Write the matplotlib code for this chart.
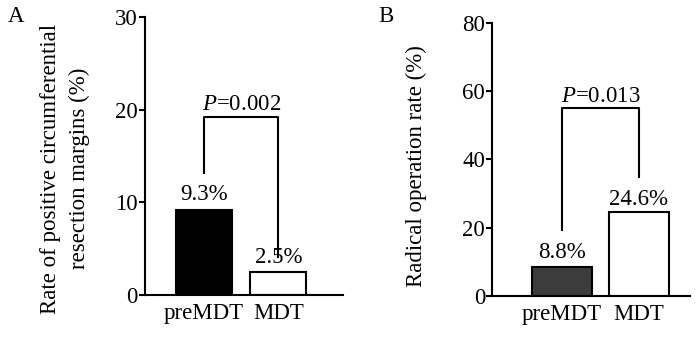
import matplotlib.pyplot as plt

plt.rcParams['font.family'] = ['Liberation Serif', 'DejaVu Serif']
plt.rcParams['mathtext.fontset'] = 'custom'
plt.rcParams['mathtext.rm'] = 'Liberation Serif'
plt.rcParams['mathtext.it'] = 'Liberation Serif:italic'

groups = ['preMDT', 'MDT']
crm_values = [9.2, 2.5]
crm_labels = ['9.3%', '2.5%']
radical_values = [8.5, 24.6]
radical_labels = ['8.8%', '24.6%']
p_crm = '0.002'
p_radical = '0.013'

FS = 16.5


def style_axis(ax):
  ax.spines['top'].set_visible(False)
  ax.spines['right'].set_visible(False)
  ax.spines['left'].set_linewidth(1.5)
  ax.spines['bottom'].set_linewidth(1.5)
  ax.tick_params(axis='y', direction='out', length=4, width=1.5, labelsize=FS, pad=1)
  ax.tick_params(axis='x', length=0, labelsize=FS, pad=6)


fig = plt.figure(figsize=(7, 3.41), dpi=100)
x = [0, 1]

# panel A
ax1 = fig.add_axes([0.207, 0.135, 0.283, 0.815])
ax1.bar(x, crm_values, width=0.75, color=['black', 'white'], edgecolor='black', linewidth=1.5)
for xi, v, lab in zip(x, crm_values, crm_labels):
  ax1.text(xi, v + 1.0, lab, ha='center', va='baseline', fontsize=FS)
ax1.plot([0, 0, 1, 1], [13.2, 19.2, 19.2, 4.1], color='black', lw=1.5)
ax1.text(0.5, 19.95, '$P$=' + p_crm, ha='center', va='baseline', fontsize=FS)
ax1.set_xlim(-0.79, 1.866)
ax1.set_ylim(0, 30)
ax1.set_yticks([0, 10, 20, 30])
ax1.set_xticks(x)
ax1.set_xticklabels(groups)
ax1.set_ylabel('Rate of positive circumferential\nresection margins (%)', fontsize=FS, linespacing=1.45)
ax1.yaxis.set_label_coords(-0.278, 0.455)
style_axis(ax1)
fig.text(0.011, 0.935, 'A', fontsize=FS, va='baseline')

# panel B
ax2 = fig.add_axes([0.703, 0.132, 0.283, 0.801])
ax2.bar(x, radical_values, width=0.78, color=['#3c3c3c', 'white'], edgecolor='black', linewidth=1.5)
ax2.text(0, radical_values[0] + 2.6, radical_labels[0], ha='center', va='baseline', fontsize=FS)
ax2.text(1, radical_values[1] + 2.0, radical_labels[1], ha='center', va='baseline', fontsize=FS)
ax2.plot([0, 0, 1, 1], [19.3, 55.1, 55.1, 34.9], color='black', lw=1.5)
ax2.text(0.5, 56.9, '$P$=' + p_radical, ha='center', va='baseline', fontsize=FS)
ax2.set_xlim(-0.915, 1.673)
ax2.set_ylim(0, 80)
ax2.set_yticks([0, 20, 40, 60, 80])
ax2.set_xticks(x)
ax2.set_xticklabels(groups)
ax2.set_ylabel('Radical operation rate (%)', fontsize=FS)
ax2.yaxis.set_label_coords(-0.33, 0.476)
style_axis(ax2)
fig.text(0.54, 0.935, 'B', fontsize=FS, va='baseline')

fig.savefig('out.png', dpi=100)
